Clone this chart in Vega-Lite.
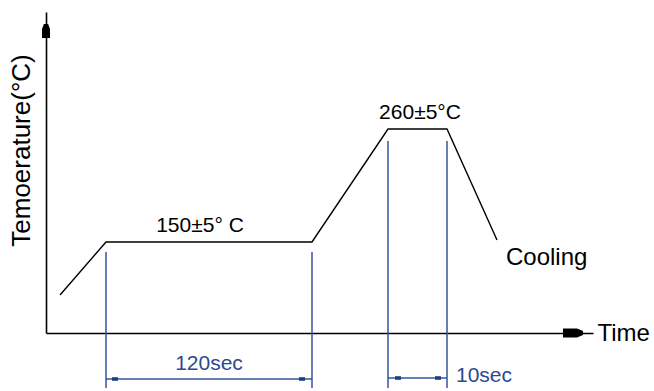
{
  "$schema": "https://vega.github.io/schema/vega-lite/v6.json",
  "width": 547,
  "height": 321,
  "autosize": {"type": "none"},
  "padding": {"left": 46, "top": 12, "right": 61, "bottom": 58},
  "background": "white",
  "config": {
    "view": {"stroke": null},
    "axis": {"ticks": false, "labels": false, "grid": false, "domainColor": "black", "domainWidth": 1.6, "titleFont": "Liberation Sans", "titleFontSize": 24, "titleFontWeight": "normal", "titleColor": "black"},
    "text": {"font": "Liberation Sans", "fontSize": 21}
  },
  "datasets": {
    "profile": [
      {"x": 14, "y": 38},
      {"x": 60, "y": 91},
      {"x": 266, "y": 91},
      {"x": 342, "y": 204},
      {"x": 401, "y": 204},
      {"x": 451, "y": 93}
    ],
    "dims": [
      {"x": 60, "y": 81, "x2": 60, "y2": -55},
      {"x": 266, "y": 81, "x2": 266, "y2": -55},
      {"x": 342, "y": 192, "x2": 342, "y2": -55},
      {"x": 401, "y": 192, "x2": 401, "y2": -55},
      {"x": 60, "y": -46, "x2": 266, "y2": -46},
      {"x": 342, "y": -45, "x2": 401, "y2": -45}
    ],
    "ends": [
      {"x": 69, "y": -46},
      {"x": 256, "y": -46},
      {"x": 352, "y": -45},
      {"x": 392, "y": -45}
    ],
    "yarrow": [{"x": 0, "y": 302}],
    "xarrow": [{"x": 527, "y": 0}],
    "tempLabels": [
      {"x": 154, "y": 101, "label": "150±5° C"},
      {"x": 374, "y": 214, "label": "260±5°C"}
    ],
    "phaseLabels": [
      {"x": 460, "y": 68, "label": "Cooling"}
    ],
    "spanCenter": [
      {"x": 163, "y": -37, "label": "120sec"}
    ],
    "spanLeft": [
      {"x": 410, "y": -49, "label": "10sec"}
    ]
  },
  "encoding": {
    "x": {"field": "x", "type": "quantitative", "scale": {"domain": [0, 547], "nice": false, "zero": false},
      "axis": {"title": "Time", "titleAngle": 0, "titleX": 551, "titleY": 0, "titleAlign": "left", "titleBaseline": "middle"}},
    "y": {"field": "y", "type": "quantitative", "scale": {"domain": [0, 321], "nice": false, "zero": false},
      "axis": {"title": "Temoerature(°C)", "titleFontSize": 26, "titleAngle": 270, "titleX": -25, "titleY": 138, "titleAlign": "center", "titleBaseline": "middle"}}
  },
  "layer": [
    {"data": {"name": "dims"}, "mark": {"type": "rule", "color": "#34559a", "strokeWidth": 1.5},
      "encoding": {"x2": {"field": "x2"}, "y2": {"field": "y2"}}},
    {"data": {"name": "ends"}, "mark": {"type": "point", "shape": "M-1,-0.6L1,-0.6L1,0.6L-1,0.6Z", "size": 36, "filled": true, "color": "#1f3f85", "opacity": 1}},
    {"data": {"name": "profile"}, "mark": {"type": "line", "color": "black", "strokeWidth": 1.4}},
    {"data": {"name": "yarrow"}, "mark": {"type": "point", "shape": "M-0.3,-1L0.3,-1L0.57,-0.3L0.57,1L-0.57,1L-0.57,-0.3Z", "size": 196, "filled": true, "color": "black", "opacity": 1}},
    {"data": {"name": "xarrow"}, "mark": {"type": "point", "shape": "M-1,-0.45L0.4,-0.45L1,-0.2L1,0.2L0.4,0.45L-1,0.45Z", "size": 400, "filled": true, "color": "black", "opacity": 1}},
    {"data": {"name": "tempLabels"}, "mark": {"type": "text", "align": "center", "baseline": "alphabetic", "color": "black"},
      "encoding": {"text": {"field": "label"}}},
    {"data": {"name": "phaseLabels"}, "mark": {"type": "text", "align": "left", "baseline": "alphabetic", "color": "black", "fontSize": 24},
      "encoding": {"text": {"field": "label"}}},
    {"data": {"name": "spanCenter"}, "mark": {"type": "text", "align": "center", "baseline": "alphabetic", "color": "#2a4a90"},
      "encoding": {"text": {"field": "label"}}},
    {"data": {"name": "spanLeft"}, "mark": {"type": "text", "align": "left", "baseline": "alphabetic", "color": "#2a4a90"},
      "encoding": {"text": {"field": "label"}}}
  ]
}
